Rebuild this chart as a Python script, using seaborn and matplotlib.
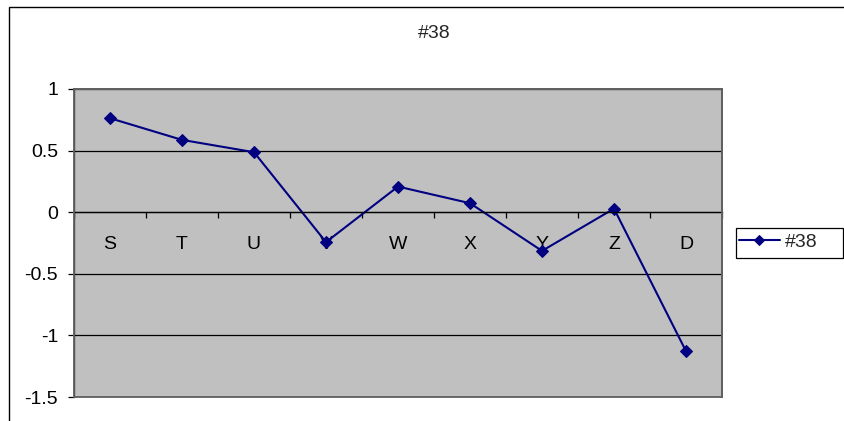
import numpy as np
import pandas as pd
import matplotlib
matplotlib.use("Agg")
import matplotlib.pyplot as plt
from matplotlib.patches import Rectangle
import seaborn as sns

categories = ["S", "T", "U", "V", "W", "X", "Y", "Z", "D"]
values = [0.763, 0.587, 0.487, -0.243, 0.208, 0.073, -0.314, 0.029, -1.128]
series_name = "#38"
y_ticks = [1, 0.5, 0, -0.5, -1, -1.5]
y_tick_labels = ["1", "0.5", "0", "-0.5", "-1", "-1.5"]

sns.set_style("white")
plt.rcParams["font.family"] = ["Liberation Sans", "DejaVu Sans"]

W, H = 844, 421
FS = 14
fig = plt.figure(figsize=(W / 100, H / 100), dpi=100)
fig.patch.set_facecolor("white")

ax = fig.add_axes([74 / W, (H - 397) / H, 648 / W, 308 / H])
ax.set_facecolor("#C0C0C0")

df = pd.DataFrame({"cat": categories, "val": values})
sns.lineplot(data=df, x="cat", y="val", sort=False, ax=ax, color="#000080",
             linewidth=1.5, marker="D", markersize=6.5, markeredgecolor="#000080",
             label=series_name, legend=False)

ax.set_xlim(-0.5, len(categories) - 0.5)
ax.set_ylim(-1.5, 1)
ax.set_yticks(y_ticks)
ax.set_yticklabels(y_tick_labels)
ax.yaxis.grid(True, color="black", linewidth=0.9)
ax.set_axisbelow(True)
ax.set_xlabel("")
ax.set_ylabel("")

# category axis crossing at 0
ax.spines["bottom"].set_position(("data", 0))
ax.spines["bottom"].set_color("black")
ax.spines["bottom"].set_linewidth(0.9)
ax.spines["left"].set_color("black")
ax.spines["left"].set_linewidth(0.9)
for s in ["top", "right"]:
    ax.spines[s].set_color("#606060")
    ax.spines[s].set_linewidth(1.3)
ax.add_patch(Rectangle((0, 0), 1, 1, transform=ax.transAxes, fill=False,
                       edgecolor="#606060", linewidth=1.3, zorder=5, clip_on=False))

ax.set_xticks(range(len(categories)))
ax.set_xticklabels(categories)
ax.set_xticks(np.arange(-0.5, len(categories), 1), minor=True)
ax.tick_params(axis="x", which="major", length=0, pad=17, labelsize=FS, colors="black")
ax.tick_params(axis="x", which="minor", length=4, width=0.9, direction="out", color="black", bottom=True)
ax.tick_params(axis="y", which="major", length=4.5, width=0.9, direction="out", pad=7,
               labelsize=FS, left=True, colors="black")

# chart border
fig.patches.append(Rectangle((9 / W, -0.1), 2, 1 - 7 / H + 0.1, transform=fig.transFigure,
                             fill=False, edgecolor="black", linewidth=1.0))

fig.text(434 / W, 1 - 33 / H, series_name, ha="center", va="center", fontsize=FS)

# legend frame (Excel style, wide right padding)
fig.patches.append(Rectangle((736 / W, 1 - 258 / H), (843 - 736) / W, 30 / H,
                             transform=fig.transFigure, fill=False,
                             edgecolor="black", linewidth=0.9))
handles, labels = ax.get_legend_handles_labels()
leg = fig.legend(handles, labels, loc="center left",
                 bbox_to_anchor=(739 / W, 1 - 242 / H), fontsize=FS,
                 frameon=False, handlelength=2.1, markerscale=0.8,
                 handletextpad=0.25, borderpad=0, borderaxespad=0)

fig.savefig("out.png", dpi=100, facecolor="white")
